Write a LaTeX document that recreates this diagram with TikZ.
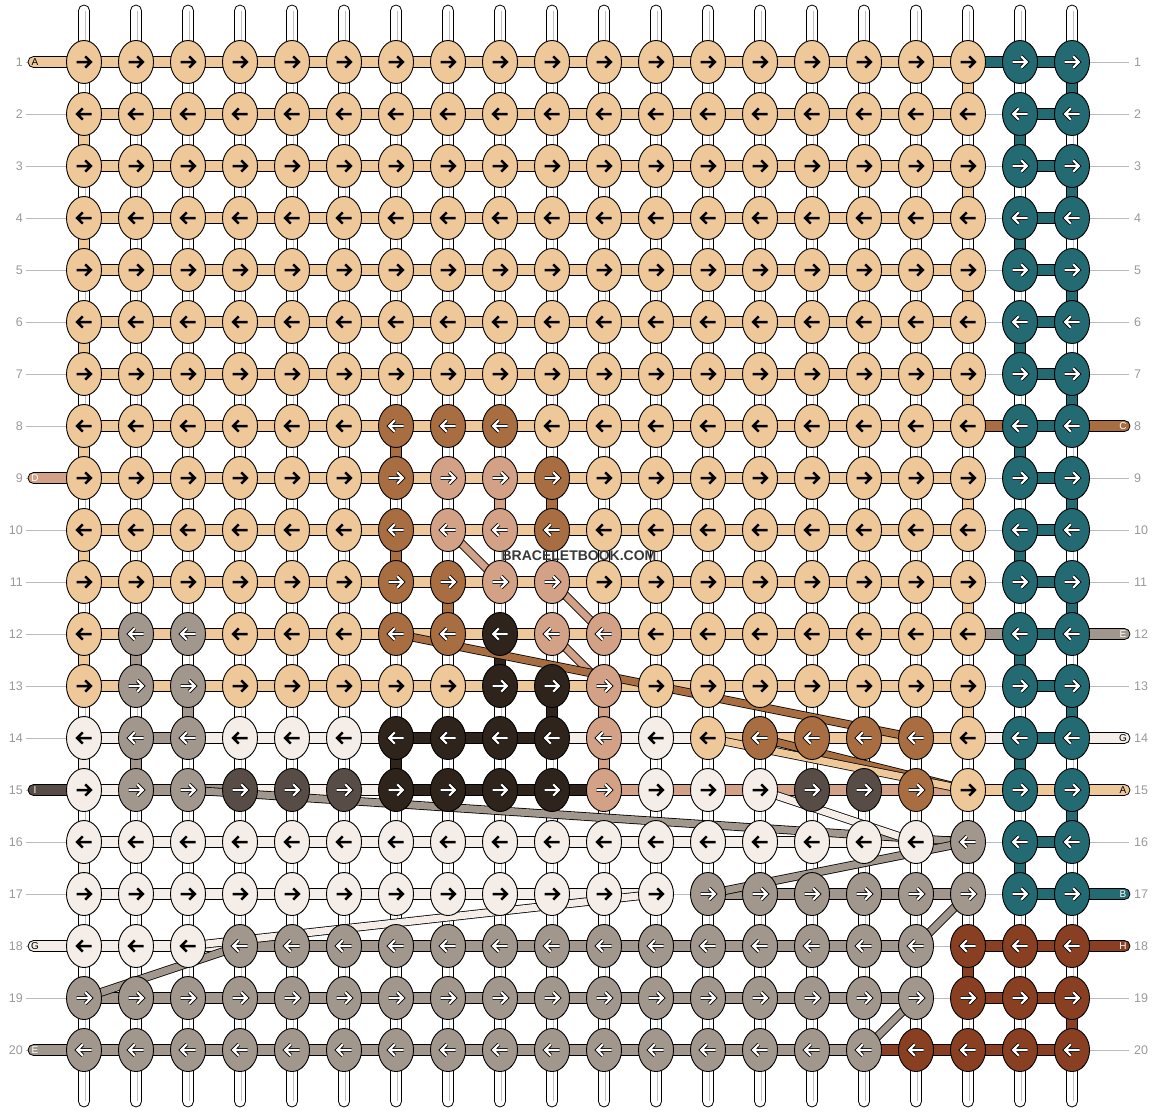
\documentclass[tikz,border=0pt]{standalone}
\usepackage{fontspec}
\setmainfont{Liberation Sans}
\usetikzlibrary{calc,shapes.geometric}
\definecolor{ct}{HTML}{EEC899}
\definecolor{cq}{HTML}{246A72}
\definecolor{cb}{HTML}{A86E41}
\definecolor{cs}{HTML}{D3A185}
\definecolor{ck}{HTML}{2E241C}
\definecolor{cy}{HTML}{A2978D}
\definecolor{cd}{HTML}{574C46}
\definecolor{cw}{HTML}{F4EDE8}
\definecolor{cr}{HTML}{883F22}
\definecolor{lbl}{HTML}{999999}
\definecolor{guide}{HTML}{BBBBBB}
\newcommand\defrow[3]{\expandafter\def\csname #1#2\endcsname{#3}}
% knot colours
\defrow{kr}{1}{t,t,t,t,t, t,t,t,t,t, t,t,t,t,t, t,t,t,q,q}
\defrow{kr}{2}{t,t,t,t,t, t,t,t,t,t, t,t,t,t,t, t,t,t,q,q}
\defrow{kr}{3}{t,t,t,t,t, t,t,t,t,t, t,t,t,t,t, t,t,t,q,q}
\defrow{kr}{4}{t,t,t,t,t, t,t,t,t,t, t,t,t,t,t, t,t,t,q,q}
\defrow{kr}{5}{t,t,t,t,t, t,t,t,t,t, t,t,t,t,t, t,t,t,q,q}
\defrow{kr}{6}{t,t,t,t,t, t,t,t,t,t, t,t,t,t,t, t,t,t,q,q}
\defrow{kr}{7}{t,t,t,t,t, t,t,t,t,t, t,t,t,t,t, t,t,t,q,q}
\defrow{kr}{8}{t,t,t,t,t, t,b,b,b,t, t,t,t,t,t, t,t,t,q,q}
\defrow{kr}{9}{t,t,t,t,t, t,b,s,s,b, t,t,t,t,t, t,t,t,q,q}
\defrow{kr}{10}{t,t,t,t,t, t,b,s,s,b, t,t,t,t,t, t,t,t,q,q}
\defrow{kr}{11}{t,t,t,t,t, t,b,b,s,s, t,t,t,t,t, t,t,t,q,q}
\defrow{kr}{12}{t,y,y,t,t, t,b,b,k,s, s,t,t,t,t, t,t,t,q,q}
\defrow{kr}{13}{t,y,y,t,t, t,t,t,k,k, s,t,t,t,t, t,t,t,q,q}
\defrow{kr}{14}{w,y,y,w,w, w,k,k,k,k, s,w,t,b,b, b,b,t,q,q}
\defrow{kr}{15}{w,y,y,d,d, d,k,k,k,k, s,w,w,w,d, d,b,t,q,q}
\defrow{kr}{16}{w,w,w,w,w, w,w,w,w,w, w,w,w,w,w, w,w,y,q,q}
\defrow{kr}{17}{w,w,w,w,w, w,w,w,w,w, w,w,y,y,y, y,y,y,q,q}
\defrow{kr}{18}{w,w,w,y,y, y,y,y,y,y, y,y,y,y,y, y,y,r,r,r}
\defrow{kr}{19}{y,y,y,y,y, y,y,y,y,y, y,y,y,y,y, y,y,r,r,r}
\defrow{kr}{20}{y,y,y,y,y, y,y,y,y,y, y,y,y,y,y, y,r,r,r,r}
% horizontal bars: 0 = left stub, c = between c and c+1, 20 = right stub
\defrow{br}{1}{t, t,t,t,t,t, t,t,t,t,t, t,t,t,t,t, t,t,q,q, n}
\defrow{br}{2}{n, t,t,t,t,t, t,t,t,t,t, t,t,t,t,t, t,t,n,q, n}
\defrow{br}{3}{n, t,t,t,t,t, t,t,t,t,t, t,t,t,t,t, t,t,n,q, n}
\defrow{br}{4}{n, t,t,t,t,t, t,t,t,t,t, t,t,t,t,t, t,t,n,q, n}
\defrow{br}{5}{n, t,t,t,t,t, t,t,t,t,t, t,t,t,t,t, t,t,n,q, n}
\defrow{br}{6}{n, t,t,t,t,t, t,t,t,t,t, t,t,t,t,t, t,t,n,q, n}
\defrow{br}{7}{n, t,t,t,t,t, t,t,t,t,t, t,t,t,t,t, t,t,n,q, n}
\defrow{br}{8}{n, t,t,t,t,t, t,t,t,t,t, t,t,t,t,t, t,t,b,q, b}
\defrow{br}{9}{s, t,t,t,t,t, t,t,t,t,t, t,t,t,t,t, t,t,n,q, n}
\defrow{br}{10}{n, t,t,t,t,t, t,t,t,t,t, t,t,t,t,t, t,t,n,q, n}
\defrow{br}{11}{n, t,t,t,t,t, t,t,t,t,t, t,t,t,t,t, t,t,n,q, n}
\defrow{br}{12}{n, t,t,t,t,t, t,t,t,t,t, t,t,t,t,t, t,t,y,q, y}
\defrow{br}{13}{n, t,t,t,t,t, t,t,t,t,t, t,t,t,t,t, t,t,n,q, n}
\defrow{br}{14}{n, w,y,w,w,w, w,k,k,k,w, w,w,t,t,t, t,t,w,q, w}
\defrow{br}{15}{d, w,y,y,w,w, w,k,k,k,k, s,s,s,s,s, s,s,t,t, t}
\defrow{br}{16}{n, w,w,w,w,w, w,w,w,w,w, w,w,w,w,w, w,y,n,q, n}
\defrow{br}{17}{n, w,w,w,w,w, w,w,w,w,w, w,n,y,y,y, y,y,n,q, q}
\defrow{br}{18}{w, w,w,w,y,y, y,y,y,y,y, y,y,y,y,y, y,n,r,r, r}
\defrow{br}{19}{n, y,y,y,y,y, y,y,y,y,y, y,y,y,y,y, y,n,r,r, n}
\defrow{br}{20}{y, y,y,y,y,y, y,y,y,y,y, y,y,y,y,y, r,r,r,r, n}
\newcommand\arrowblack{\draw[line width=2.5pt,miter limit=6] (-7.5,0) -- (6.2,0) (1.2,-5.6) -- (6.8,0) -- (1.2,5.6);}
\newcommand\arrowwhite{\draw[line width=3.9pt,miter limit=6] (-7.5,0) -- (6.2,0) (1.2,-5.6) -- (6.8,0) -- (1.2,5.6);
  \draw[white,line width=2.1pt,miter limit=6] (-7.5,0) -- (6.2,0) (1.2,-5.6) -- (6.8,0) -- (1.2,5.6);}
\begin{document}
\begin{tikzpicture}[x=1pt,y=-1pt,
  knot/.style={draw=black,line width=0.9pt,ellipse,minimum width=35pt,minimum height=43pt,inner sep=0pt},
  barline/.style={draw=black,line width=0.8pt},
  numlbl/.style={text=lbl,font=\fontsize{12.5}{13}\selectfont,inner sep=0pt},
  stublbl/.style={font=\fontsize{10}{10}\selectfont,inner sep=0pt},
  guideline/.style={draw=guide,line width=0.9pt}]
\useasboundingbox (0,0) rectangle (1156,1112);
% coordinates
\foreach \r in {1,...,20}{
  \pgfmathsetmacro\yy{62+(\r-1)*52}
  \coordinate (sl-\r) at (28,\yy);
  \coordinate (sr-\r) at (1130,\yy);
  \coordinate (gl-\r) at (26,\yy);
  \coordinate (gr-\r) at (1129,\yy);
  \foreach \c in {1,...,20}{
    \pgfmathsetmacro\xx{84+(\c-1)*52}
    \coordinate (p-\r-\c) at (\xx,\yy);
  }
}
\foreach \c in {1,...,20}{
  \pgfmathsetmacro\xx{84+(\c-1)*52}
  \coordinate (wt-\c) at (\xx,5);
  \coordinate (wb-\c) at (\xx,1107);
}
% guide lines
\foreach \r in {1,...,20}{ \draw[guideline] (gl-\r) -- (gr-\r); }
% warps
\foreach \c in {1,...,20}{
  \draw[fill=white,line width=0.8pt,rounded corners=5.5pt] ($(wt-\c)+(-5.5,0)$) rectangle ($(wb-\c)+(5.5,0)$);
  \draw[black!25,line width=0.6pt] ($(wt-\c)+(0.8,6)$) -- ($(wb-\c)+(0.8,-6)$);
}
% vertical coloured segments
\foreach \col/\cc/\rr in {t/18/1,t/18/3,t/18/5,t/18/7,t/18/9,t/18/11,t/18/13,
  t/1/2,t/1/4,t/1/6,t/1/8,t/1/10,t/1/12,
  q/20/1,q/20/3,q/20/5,q/20/7,q/20/9,q/20/11,q/20/13,q/20/15,
  q/19/2,q/19/4,q/19/6,q/19/8,q/19/10,q/19/12,q/19/14,q/19/16,
  b/7/8,b/10/9,b/7/10,b/8/11,s/9/9,s/11/13,s/11/14,
  k/9/12,k/10/13,k/7/14,y/2/12,y/3/13,y/2/14,w/1/14,w/1/16,r/18/18,r/20/19}{
  \pgfmathtruncatemacro\rn{\rr+1}
  \draw[barline,fill=c\col] ($(p-\rr-\cc)+(-5.5,0)$) rectangle ($(p-\rn-\cc)+(5.5,0)$);
}
% horizontal bars and stubs
\foreach \r in {1,...,20}{
  \expandafter\let\expandafter\lst\csname br\r\endcsname
  \foreach \k [count=\i from 0] in \lst {
    \if n\k\else
      \ifnum\i=0
        \draw[barline,fill=c\k,rounded corners=5.5pt] ($(sl-\r)+(0,-5.5)$) rectangle ($(p-\r-1)+(0,5.5)$);
      \else\ifnum\i=20
        \draw[barline,fill=c\k,rounded corners=5.5pt] ($(p-\r-20)+(0,-5.5)$) rectangle ($(sr-\r)+(0,5.5)$);
      \else
        \pgfmathtruncatemacro\j{\i+1}
        \draw[barline,fill=c\k] ($(p-\r-\i)+(0,-5.5)$) rectangle ($(p-\r-\j)+(0,5.5)$);
      \fi\fi
    \fi
  }
}
% floats
\foreach \col/\ra/\ca/\rb/\cb in {s/10/8/11/9,s/11/10/12/11,s/12/10/13/11,b/12/7/14/17,
  b/14/14/15/18,t/14/13/15/18,y/15/3/16/18,w/15/14/16/17,y/17/13/16/18,
  w/17/12/18/3,y/18/4/19/1,y/18/17/17/18,y/20/16/19/17}{
  \draw[line width=8.6pt] (p-\ra-\ca) -- (p-\rb-\cb);
  \draw[line width=7pt,c\col] (p-\ra-\ca) -- (p-\rb-\cb);
}
% knots
\foreach \r in {1,...,20}{
  \expandafter\let\expandafter\lst\csname kr\r\endcsname
  \pgfmathtruncatemacro\dir{ifthenelse(mod(\r,2)==1,1,-1)}
  \foreach \k [count=\c] in \lst {
    \node[knot,fill=c\k] (k-\r-\c) at (p-\r-\c) {};
    \begin{scope}[shift={(k-\r-\c.center)},xscale=\dir]
      \if t\k \arrowblack\else\if w\k \arrowblack\else \arrowwhite\fi\fi
    \end{scope}
  }
}
% row numbers
\foreach \r in {1,...,20}{
  \node[numlbl,anchor=east] (nl-\r) at ($(gl-\r)+(-3,0)$) {\r};
  \node[numlbl,anchor=west] (nr-\r) at ($(gr-\r)+(5,0)$) {\r};
}
% stub letters
\foreach \r/\t/\tc in {1/A/black,9/D/white,15/I/white,18/G/black,20/E/white}{
  \node[stublbl,text=\tc] (ls-\r) at ($(sl-\r)+(7,0.5)$) {\t};
}
\foreach \r/\t/\tc in {8/C/white,12/E/white,14/G/black,15/A/black,17/B/white,18/H/white}{
  \node[stublbl,text=\tc] (rs-\r) at ($(sr-\r)+(-7,0.5)$) {\t};
}
% watermark
\node[font=\bfseries\fontsize{14}{14}\selectfont,text=black!78,inner sep=0pt] (wm) at (579,556) {BRACELETBOOK.COM};
\end{tikzpicture}
\end{document}
